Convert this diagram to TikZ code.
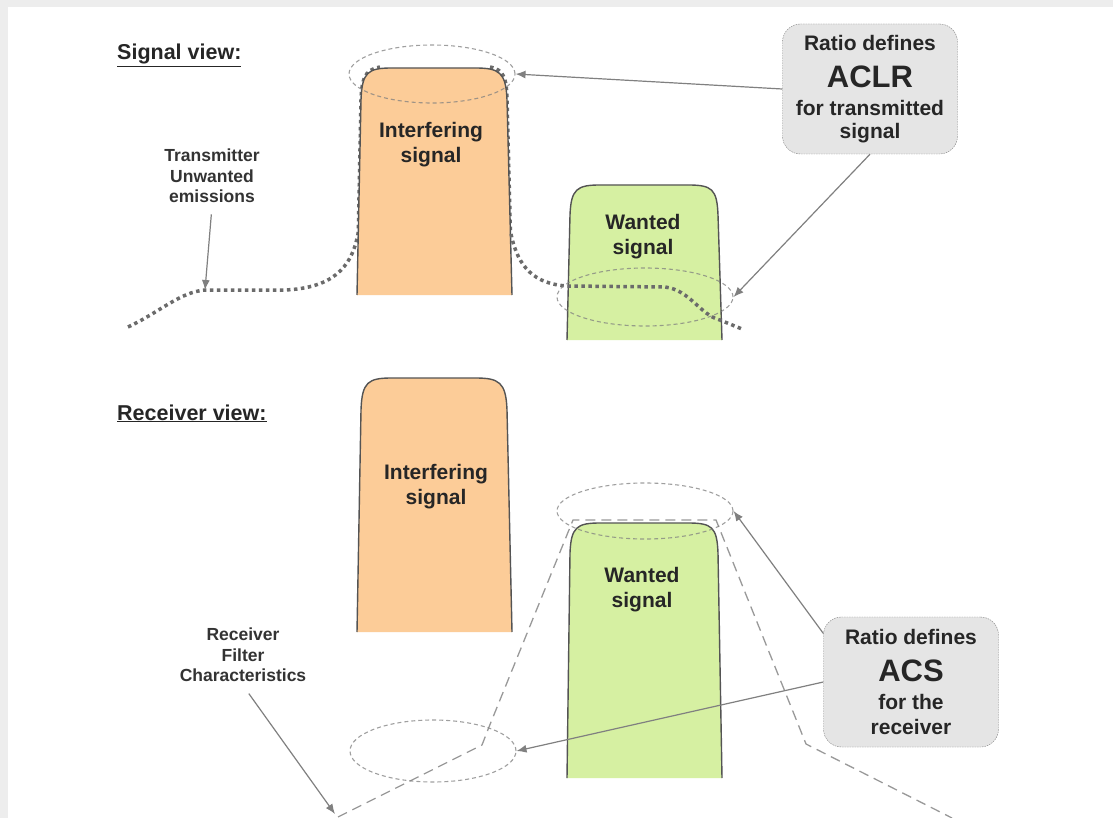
\documentclass[tikz,border=0pt]{standalone}
\usepackage{fontspec}
\setmainfont{Liberation Sans}
\usetikzlibrary{arrows.meta,shapes.geometric}
\definecolor{framecol}{gray}{0.93}
\definecolor{interfcol}{RGB}{252,204,152}
\definecolor{wantcol}{RGB}{214,240,162}
\definecolor{edgecol}{gray}{0.33}
\definecolor{ringcol}{gray}{0.5}
\definecolor{pointcol}{gray}{0.5}
\definecolor{boxcol}{gray}{0.90}
\definecolor{emitcol}{gray}{0.42}
\tikzset{
  sigtxt/.style={font=\bfseries\fontsize{21}{25}\selectfont,align=center,text=black!85},
  smalltxt/.style={font=\bfseries\fontsize{17.5}{20.5}\selectfont,align=center,text=black!80},
  headtxt/.style={font=\bfseries\fontsize{21.5}{25}\selectfont,anchor=base west,inner sep=0pt,text=black!85},
  sigedge/.style={draw=edgecol,line width=1.4pt},
  ring/.style={draw=ringcol,draw opacity=0.75,ellipse,dash pattern=on 4pt off 3pt,line width=1.1pt,inner sep=0pt},
  ratiobox/.style={draw=ringcol,dash pattern=on 1.5pt off 1pt,fill=boxcol,rounded corners=18pt,minimum width=175pt,minimum height=130pt,align=center,font=\bfseries\fontsize{21}{24}\selectfont,text=black!85},
  pointer/.style={draw=pointcol,line width=1.2pt,-{Latex[length=10pt,width=8pt]}},
  emission/.style={draw=emitcol,line width=3.5pt,dash pattern=on 3.5pt off 3.5pt},
  filterline/.style={draw=ringcol,draw opacity=0.8,line width=1.3pt,dash pattern=on 10pt off 6pt},
}
\begin{document}
\begin{tikzpicture}[x=1pt,y=-1pt]
  \useasboundingbox (0,0) rectangle (1113,818);
  \fill[framecol] (0,0) rectangle (1113,818);
  \fill[white] (8,7) rectangle (1113,818);
  % signal view
  \node[headtxt] (sighead) at (117,60) {\underline{Signal view:}};
  \draw[emission] (128,327) .. controls (160,312) and (180,292) .. (205,290) -- (285,290) .. controls (330,288) and (352,270) .. (358.3,232) -- (360.8,110) .. controls (361,78) and (364,70) .. (380,67);
  \draw[emission] (490,67) .. controls (505,70) and (507,78) .. (507.3,110) -- (510.4,232);
  \draw[sigedge,fill=interfcol] (357,295) -- (361,100) .. controls (362,72) and (368,68) .. (392,68) -- (475,68) .. controls (499,68) and (506,72) .. (507,100) -- (512,295);
  \draw[sigedge,fill=wantcol] (567,340) -- (570,215) .. controls (571,189) and (577,185) .. (600,185) -- (688,185) .. controls (712,185) and (717,189) .. (718,215) -- (722,340);
  \draw[emission] (511,234) .. controls (518,268) and (535,284) .. (567,286) -- (665,287) .. controls (690,290) and (700,315) .. (720,320) -- (742,329);
  \node[sigtxt] (interf1) at (431,145) {Interfering\\signal};
  \node[sigtxt] (want1) at (643,237) {Wanted\\signal};
  \node[ring,minimum width=166pt,minimum height=58pt] (ell1) at (432,74) {};
  \node[ring,minimum width=176pt,minimum height=58pt] (ell2) at (645,297) {};
  \node[ratiobox] (aclr) at (870,89) {Ratio defines\\[13pt]{\fontsize{31}{31}\selectfont ACLR}\\[4pt]for transmitted\\[-1pt]signal};
  \node[smalltxt] (txlabel) at (212,176) {Transmitter\\Unwanted\\emissions};
  \coordinate (emitpt) at (205,290);
  \draw[pointer] (aclr.west) -- (ell1.east);
  \draw[pointer] (aclr.south) -- (ell2.east);
  \draw[pointer,shorten <=8pt] (txlabel.south) -- (emitpt);
  % receiver view
  \node[headtxt] (rxhead) at (117,420) {\underline{Receiver view:}};
  \draw[sigedge,fill=interfcol] (357,632) -- (361,410) .. controls (362,382) and (368,378) .. (392,378) -- (475,378) .. controls (499,378) and (506,382) .. (507,410) -- (512,632);
  \draw[sigedge,fill=wantcol] (567,778) -- (570,553) .. controls (571,527) and (577,523) .. (600,523) -- (688,523) .. controls (712,523) and (717,527) .. (718,553) -- (722,778);
  \draw[filterline] (338,817) -- (482,745) -- (489,727) -- (573,520) -- (716,520) -- (806,744) -- (952,818);
  \node[sigtxt] (interf2) at (436,487) {Interfering\\signal};
  \node[sigtxt] (want2) at (642,590) {Wanted\\signal};
  \node[ring,minimum width=176pt,minimum height=56pt] (ell3) at (645,511) {};
  \node[ring,minimum width=166pt,minimum height=62pt] (ell4) at (433,751) {};
  \node[ratiobox] (acs) at (911,682) {Ratio defines\\[13pt]{\fontsize{31}{31}\selectfont ACS}\\[4pt]for the\\[1pt]receiver};
  \node[smalltxt] (rxlabel) at (243,655) {Receiver\\Filter\\Characteristics};
  \coordinate (filtpt) at (335,814);
  \draw[pointer] (acs.151) -- (ell3.east);
  \draw[pointer] (acs.west) -- (ell4.east);
  \draw[pointer,shorten <=10pt] (rxlabel.south) -- (filtpt);
\end{tikzpicture}
\end{document}
